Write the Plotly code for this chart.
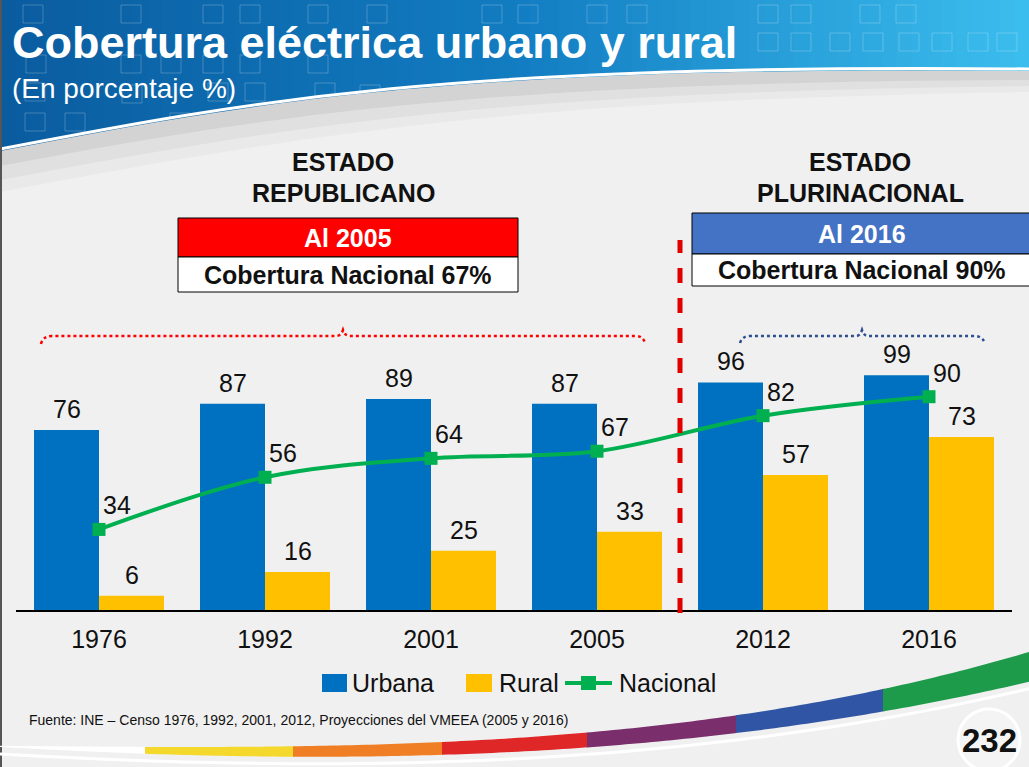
import plotly.graph_objects as go
import numpy as np

W, H = 1029, 767

# ---------------- data ----------------
years = ["1976", "1992", "2001", "2005", "2012", "2016"]
urbana = [76, 87, 89, 87, 96, 99]
rural = [6, 16, 25, 33, 57, 73]
nacional = [34, 56, 64, 67, 82, 90]
xpos = list(range(len(years)))  # category slots for the years

FONT = "Liberation Sans, Arial, sans-serif"
C_URB = "#0070C0"
C_RUR = "#FFC000"
C_NAC = "#00B050"
BG = "#f0f0f0"


def px(x):
    return x / W


def py(y):
    return 1 - y / H


def pt(x, y):
    return f"{px(x):.5f},{py(y):.5f}"


shapes = []


def add_path(d, fill=None, line_color=None, width=0, dash=None, layer="below"):
    s = dict(type="path", path=d, xref="paper", yref="paper", layer=layer,
             line=dict(width=width, color=line_color or "rgba(0,0,0,0)"))
    if dash:
        s["line"]["dash"] = dash
    if fill:
        s["fillcolor"] = fill
    shapes.append(s)


def add_rect(x0, y0, x1, y1, fill, line_color=None, width=0, layer="below"):
    shapes.append(dict(type="rect", xref="paper", yref="paper", layer=layer,
                       x0=px(x0), x1=px(x1), y0=py(y1), y1=py(y0),
                       fillcolor=fill,
                       line=dict(width=width, color=line_color or "rgba(0,0,0,0)")))


# ---------------- header background ----------------
def mix(c1, c2, t):
    return tuple(int(round(a + (b - a) * t)) for a, b in zip(c1, c2))


c_l, c_m, c_r = (10, 92, 158), (18, 124, 194), (60, 190, 238)
n = 70
for i in range(n):
    t = (i + 0.5) / n
    c = mix(c_l, c_m, t / 0.5) if t < 0.5 else mix(c_m, c_r, (t - 0.5) / 0.5)
    add_rect(i * W / n, 0, (i + 1) * W / n + 1, 175, f"rgb{c}")

# faint squares in header
sq = [(23, 5), (121, 5), (203, 5), (240, 5), (308, 5), (367, 5), (482, 5), (518, 5),
      (587, 5), (627, 5), (758, 5), (791, 5), (860, 5), (896, 5),
      (758, 33), (791, 33), (830, 33), (863, 33), (899, 33), (932, 33), (968, 33), (997, 33),
      (26, 55), (121, 55), (161, 55), (203, 55), (240, 55), (308, 55),
      (25, 83), (122, 85), (208, 83), (245, 83), (315, 83), (360, 85),
      (25, 113), (65, 113), (170, 113), (208, 113)]
for (x, y) in sq:
    shapes.append(dict(type="rect", xref="paper", yref="paper", layer="below",
                       x0=px(x), x1=px(x + 20), y0=py(y + 18), y1=py(y),
                       line=dict(width=1, color="rgba(255,255,255,0.22)")))

# swoosh below header
add_path(f"M{pt(0,151)} C{pt(250,103)} {pt(450,65)} {pt(1029,71)} L{pt(1029,320)} L{pt(0,320)} Z",
         fill="#d3d3d3")
add_path(f"M{pt(0,166)} C{pt(260,118)} {pt(460,82)} {pt(1029,80)} L{pt(1029,320)} L{pt(0,320)} Z",
         fill="#e0e0e0")
add_path(f"M{pt(0,180)} C{pt(270,130)} {pt(470,92)} {pt(1029,86)} L{pt(1029,330)} L{pt(0,330)} Z",
         fill="#e9e9e9")
add_path(f"M{pt(0,192)} C{pt(280,140)} {pt(480,100)} {pt(1029,92)} L{pt(1029,340)} L{pt(0,340)} Z",
         fill=BG)
add_path(f"M{pt(0,149)} C{pt(250,101)} {pt(450,63)} {pt(1029,69)}",
         line_color="white", width=3)

# left border
shapes.append(dict(type="line", xref="paper", yref="paper", layer="below",
                   x0=px(1), x1=px(1), y0=0, y1=1, line=dict(color="#555555", width=2)))

# ---------------- bottom coloured stripe ----------------
tx = [145, 293, 442, 587, 736, 883, 1029]
ty = [747, 746, 742, 733, 715, 689, 652]
by = [754, 756, 755, 748, 733, 711, 682]
ft = np.poly1d(np.polyfit(tx, ty, 3))
fb = np.poly1d(np.polyfit(tx, by, 3))


def band(xa, xb, color):
    xs = np.linspace(xa, xb, 24)
    d = "M" + " L".join(pt(x, ft(x)) for x in xs)
    d += " L" + " L".join(pt(x, fb(x)) for x in xs[::-1]) + " Z"
    add_path(d, fill=color)


band(0, 146, "white")
seg_x = [145, 293, 442, 587, 736, 883, 1030]
seg_c = ["#F4D82C", "#EF7E25", "#E02727", "#7A2E6C", "#2F55A4", "#1E9A4B"]
for i, c in enumerate(seg_c):
    band(seg_x[i], seg_x[i + 1] + (0.8 if i < 5 else 0), c)
xs = np.linspace(0, 1029, 40)
add_path("M" + " L".join(pt(x, fb(x) + 7) for x in xs), line_color="white", width=3)

# page number circle
shapes.append(dict(type="circle", xref="paper", yref="paper", layer="below",
                   x0=px(958), x1=px(1020), y0=py(771), y1=py(709),
                   fillcolor="#f4f4f4", line=dict(color="white", width=3)))

# ---------------- boxes ----------------
add_rect(178, 218, 518, 257, "#FF0000", "black", 1)
add_rect(178, 257, 518, 292, "white", "black", 1)
add_rect(692, 213, 1032, 254, "#4472C4", "black", 1)
add_rect(692, 254, 1032, 286, "white", "black", 1)

# braces
add_path(f"M{pt(41,344)} Q{pt(43,336)} {pt(52,336)} L{pt(336,336)} Q{pt(341,336)} {pt(343,330)} "
         f"Q{pt(345,336)} {pt(350,336)} L{pt(636,336)} Q{pt(643,336)} {pt(645,343)}",
         line_color="#FF0000", width=2.5, dash="dot")
add_path(f"M{pt(740,343)} Q{pt(742,336)} {pt(750,336)} L{pt(856,336)} Q{pt(860,336)} {pt(862,330)} "
         f"Q{pt(864,336)} {pt(868,336)} L{pt(975,336)} Q{pt(981,336)} {pt(984,341)}",
         line_color="#2F4F8F", width=2.5, dash="dot")

# red dashed separator between 2005 and 2012 (half-way between slots 3 and 4)
shapes.append(dict(type="line", xref="x", yref="paper", layer="above",
                   x0=3.5, x1=3.5, y0=py(613), y1=py(240),
                   line=dict(color="#E00000", width=5, dash="dash")))

# manual legend symbols
add_rect(322, 674, 347, 692, C_URB, layer="above")
add_rect(466, 674, 492, 692, C_RUR, layer="above")
shapes.append(dict(type="line", xref="paper", yref="paper", layer="above",
                   x0=px(565), x1=px(612), y0=py(683), y1=py(683),
                   line=dict(color=C_NAC, width=4)))
add_rect(581, 676, 596, 690, C_NAC, layer="above")

# ---------------- traces ----------------
fig = go.Figure()
fig.add_trace(go.Bar(x=xpos, y=urbana, name="Urbana", marker=dict(color=C_URB, line=dict(width=0))))
fig.add_trace(go.Bar(x=xpos, y=rural, name="Rural", marker=dict(color=C_RUR, line=dict(width=0))))
fig.add_trace(go.Scatter(x=xpos, y=nacional, name="Nacional", mode="lines+markers",
                         line=dict(color=C_NAC, width=4, shape="spline"),
                         marker=dict(symbol="square", size=13, color=C_NAC)))

# ---------------- annotations ----------------
ann = []
LBL = dict(family=FONT, size=25, color="#111111")
for xi, u, r, nv in zip(xpos, urbana, rural, nacional):
    ann.append(dict(x=xi, y=u, xref="x", yref="y", text=str(u), showarrow=False,
                    xshift=-32.5, yshift=21, font=LBL))
    ann.append(dict(x=xi, y=r, xref="x", yref="y", text=str(r), showarrow=False,
                    xshift=32.5, yshift=21, font=LBL))
    ann.append(dict(x=xi, y=nv, xref="x", yref="y", text=str(nv), showarrow=False,
                    xshift=18, yshift=24, font=LBL))


def txt(x, y, s, size, color="#111111", xanchor="center", bold=False):
    ann.append(dict(x=px(x), y=py(y), xref="paper", yref="paper",
                    text=f"<b>{s}</b>" if bold else s, showarrow=False,
                    xanchor=xanchor, yanchor="middle",
                    font=dict(family=FONT, size=size, color=color)))


txt(10, 43, "Cobertura eléctrica urbano y rural", 45, "white", "left", True)
txt(10, 88, "(En porcentaje %)", 28, "white", "left")
txt(343, 162, "ESTADO", 25, "#111111", bold=True)
txt(343, 193, "REPUBLICANO", 25, "#111111", bold=True)
txt(860, 162, "ESTADO", 25, "#111111", bold=True)
txt(860, 193, "PLURINACIONAL", 25, "#111111", bold=True)
txt(348, 238, "Al 2005", 25, "white", bold=True)
txt(348, 275, "Cobertura Nacional 67%", 25, "#111111", bold=True)
txt(862, 234, "Al 2016", 25, "white", bold=True)
txt(862, 270, "Cobertura Nacional 90%", 25, "#111111", bold=True)
txt(350, 683, "Urbana", 25, "#111111", "left")
txt(497, 683, "Rural", 25, "#111111", "left")
txt(617, 683, "Nacional", 25, "#111111", "left")
txt(27, 720, "Fuente: INE – Censo 1976, 1992, 2001, 2012, Proyecciones del VMEEA (2005 y 2016)",
    14, "#111111", "left")
txt(989, 740, "232", 33, "#111111", bold=True)

fig.update_layout(
    width=W, height=H, margin=dict(l=0, r=0, t=0, b=0),
    paper_bgcolor=BG, plot_bgcolor="rgba(0,0,0,0)",
    barmode="group", bargap=0.217, bargroupgap=0,
    showlegend=False, shapes=shapes, annotations=ann,
    font=dict(family=FONT),
    xaxis=dict(type="linear", domain=[px(16), px(1012)], range=[-0.5, len(years) - 0.5],
               tickmode="array", tickvals=xpos, ticktext=years,
               showline=True, linecolor="black",
               linewidth=1.5, showgrid=False, zeroline=False, ticks="", ticklabelstandoff=6,
               tickfont=dict(family=FONT, size=25, color="#111111"), fixedrange=True),
    yaxis=dict(domain=[py(610), py(373)], range=[0, 100], visible=False, fixedrange=True),
)

fig.write_html("out.html", config={"displayModeBar": False},
               post_script="document.body.style.margin='0';document.body.style.padding='0';"
                           "document.body.style.overflow='hidden';")
